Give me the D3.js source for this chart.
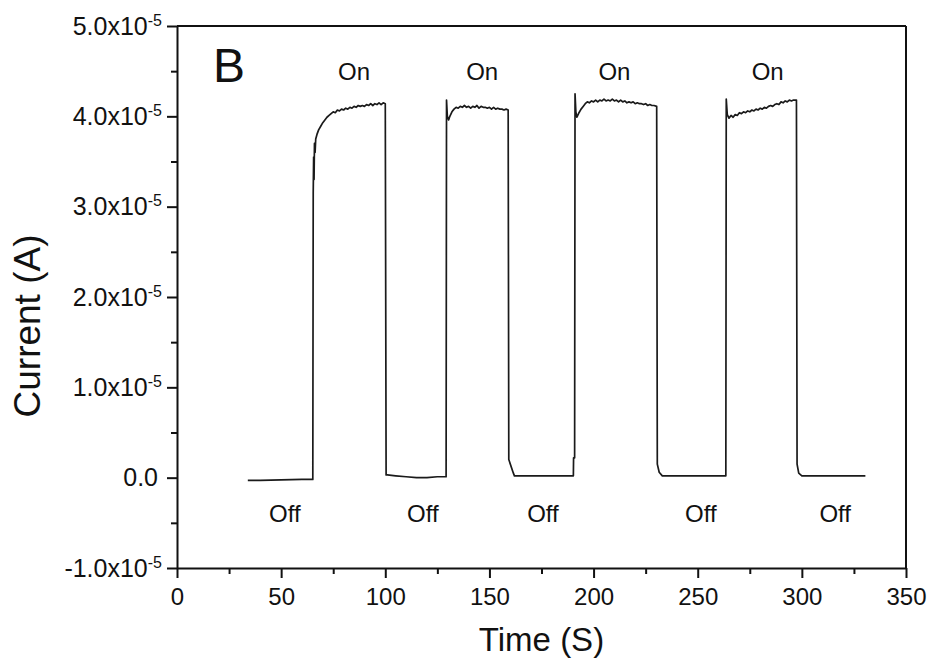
<!DOCTYPE html>
<html>
<head>
<meta charset="utf-8">
<script src="https://cdn.jsdelivr.net/npm/d3@7"></script>
<style>
  body { margin: 0; background: #fff; }
  svg text { font-family: "Liberation Sans", Arial, sans-serif; fill: #111; }
</style>
</head>
<body>
<div id="chart"></div>
<script>
// photocurrent, time in s, current in units of 1e-5 A
const off1 = [[34, -0.03], [40, -0.03], [50, -0.025], [60, -0.02], [65.2, -0.02]];
const on1 = [[65.4, 3.15], [65.6, 3.55], [65.8, 3.3], [66.0, 3.7], [66.3, 3.6], [66.6, 3.75], [67.2, 3.8],
  [68, 3.85], [69, 3.89], [70, 3.93], [71, 3.96], [72, 3.99], [73, 4.01], [74, 4.03], [75, 4.05],
  [76, 4.04], [77, 4.07], [78, 4.06], [79, 4.08], [80, 4.07], [81, 4.09], [82, 4.08], [83, 4.10],
  [84, 4.09], [85, 4.11], [86, 4.10], [87, 4.12], [88, 4.11], [89, 4.12], [90, 4.11], [91, 4.13],
  [92, 4.12], [93, 4.14], [94, 4.12], [95, 4.14], [96, 4.13], [97, 4.15], [98, 4.13], [99, 4.15], [100, 4.14]];
const off2 = [[100.4, 0.03], [101, 0.03], [105, 0.02], [110, 0.01], [115, 0.0], [120, 0.0], [125, 0.01], [129.2, 0.01]];
const on2 = [[129.4, 4.18], [129.8, 4.0], [130.4, 3.96], [131, 4.0], [132, 4.05], [133, 4.08], [134, 4.10],
  [135, 4.09], [136, 4.11], [137, 4.10], [138, 4.12], [139, 4.10], [140, 4.11], [141, 4.09], [142, 4.11],
  [143, 4.10], [144, 4.12], [145, 4.09], [146, 4.11], [147, 4.10], [148, 4.10], [149, 4.09], [150, 4.10],
  [151, 4.08], [152, 4.10], [153, 4.08], [154, 4.09], [155, 4.08], [156, 4.08], [157, 4.07], [158, 4.08], [159, 4.07]];
const off3 = [[159.3, 0.2], [161.5, 0.05], [162, 0.02], [165, 0.02], [170, 0.02], [175, 0.02], [180, 0.02],
  [185, 0.02], [190.3, 0.02], [190.4, 0.22], [190.9, 0.22]];
const on3 = [[191.1, 4.25], [191.5, 4.05], [192, 3.99], [193, 4.04], [194, 4.08], [195, 4.11], [196, 4.14],
  [197, 4.16], [198, 4.15], [199, 4.17], [200, 4.16], [201, 4.18], [202, 4.16], [203, 4.18], [204, 4.17],
  [205, 4.19], [206, 4.17], [207, 4.18], [208, 4.17], [209, 4.19], [210, 4.17], [211, 4.18], [212, 4.16],
  [213, 4.18], [214, 4.16], [215, 4.17], [216, 4.15], [217, 4.16], [218, 4.15], [219, 4.16], [220, 4.14],
  [221, 4.15], [222, 4.14], [223, 4.14], [224, 4.13], [225, 4.14], [226, 4.12], [227, 4.13], [228, 4.12],
  [229, 4.12], [230.3, 4.11]];
const off4 = [[230.6, 0.15], [231.5, 0.06], [233, 0.02], [240, 0.02], [250, 0.02], [255, 0.02], [263.5, 0.02]];
const on4 = [[263.7, 4.19], [264.2, 4.02], [265, 3.98], [266, 4.01], [267, 3.99], [268, 4.02], [269, 4.01],
  [270, 4.04], [271, 4.03], [272, 4.05], [273, 4.04], [274, 4.06], [275, 4.05], [276, 4.07], [277, 4.06],
  [278, 4.08], [279, 4.07], [280, 4.09], [281, 4.08], [282, 4.10], [283, 4.09], [284, 4.11], [285, 4.12],
  [286, 4.11], [287, 4.13], [288, 4.14], [289, 4.13], [290, 4.16], [291, 4.15], [292, 4.17], [293, 4.16],
  [294, 4.18], [295, 4.17], [296, 4.18], [297.4, 4.18]];
const off5 = [[297.7, 0.15], [298.5, 0.05], [300, 0.02], [310, 0.02], [320, 0.02], [330.5, 0.02]];

const xTicks = [0, 50, 100, 150, 200, 250, 300, 350];
const yTicks = [-1, 0, 1, 2, 3, 4, 5];
// annotation anchors (time, current)
const onLabels = [[85, 4.5], [146.5, 4.5], [210, 4.5], [283.6, 4.5]];
const offLabels = [[51.8, -0.4], [118, -0.4], [175.7, -0.4], [251.5, -0.4], [316, -0.4]];

const AREA_WIDTH = 932;
const AREA_HEIGHT = 663;
const MARGIN = { TOP: 26, RIGHT: 26, BOTTOM: 95, LEFT: 177 };
const WIDTH = AREA_WIDTH - MARGIN.LEFT - MARGIN.RIGHT;
const HEIGHT = AREA_HEIGHT - MARGIN.TOP - MARGIN.BOTTOM;

const svg = d3.select('#chart')
  .append('svg')
  .attr('width', AREA_WIDTH)
  .attr('height', AREA_HEIGHT)
  .append('g')
  .attr('transform', `translate(${MARGIN.LEFT},${MARGIN.TOP})`);

const x = d3.scaleLinear().domain([0, 350]).range([0, WIDTH]);
const y = d3.scaleLinear().domain([-1, 5]).range([HEIGHT, 0]);

const data = [].concat(off1, on1, off2, on2, off3, on3, off4, on4, off5);

svg.append('path')
  .datum(data)
  .attr('fill', 'none')
  .attr('stroke', '#1a1a1a')
  .attr('stroke-width', 1.7)
  .attr('stroke-linejoin', 'round')
  .attr('d', d3.line().x(d => x(d[0])).y(d => y(d[1])));

// frame
svg.append('line').attr('x1', 0).attr('x2', WIDTH).attr('y1', 0).attr('y2', 0)
  .attr('stroke', '#111').attr('stroke-width', 2);
svg.append('line').attr('x1', WIDTH).attr('x2', WIDTH).attr('y1', 0).attr('y2', HEIGHT)
  .attr('stroke', '#111').attr('stroke-width', 2);

// minor ticks
svg.append('g')
  .attr('transform', `translate(0,${HEIGHT})`)
  .call(d3.axisBottom(x).tickValues(d3.range(25, 350, 50)).tickSize(6).tickFormat(''))
  .call(g => g.select('.domain').remove());
svg.append('g')
  .call(d3.axisLeft(y).tickValues(d3.range(-0.5, 5, 1)).tickSize(6).tickFormat(''))
  .call(g => g.select('.domain').remove());

const xAxis = svg.append('g')
  .attr('transform', `translate(0,${HEIGHT})`)
  .call(d3.axisBottom(x).tickValues(xTicks).tickSize(10).tickSizeOuter(0).tickPadding(8));
xAxis.selectAll('text').attr('font-size', 24).attr('y', 37).attr('dy', null);

const yAxis = svg.append('g')
  .call(d3.axisLeft(y).tickValues(yTicks).tickSize(10).tickSizeOuter(0).tickFormat(''));
yAxis.selectAll('.tick').append('text')
  .attr('x', -15)
  .attr('y', 8)
  .attr('text-anchor', 'end')
  .attr('font-size', 25)
  .each(function (d) {
    const t = d3.select(this);
    if (d === 0) { t.attr('x', -19).text('0.0'); return; }
    t.append('tspan').text(d.toFixed(1) + 'x10');
    t.append('tspan').attr('dy', -9).attr('font-size', 16).text('-5');
  });

svg.selectAll('.domain, .tick line').attr('stroke', '#111').attr('stroke-width', 2);

// titles
svg.append('text')
  .attr('x', WIDTH / 2)
  .attr('y', HEIGHT + 83)
  .attr('text-anchor', 'middle')
  .attr('font-size', 33)
  .text('Time (S)');
svg.append('text')
  .attr('transform', 'rotate(-90)')
  .attr('x', -300)
  .attr('y', -137)
  .attr('text-anchor', 'middle')
  .attr('font-size', 37)
  .text('Current (A)');

svg.append('text')
  .attr('x', 36)
  .attr('y', 56)
  .attr('font-size', 48)
  .text('B');

svg.selectAll('.on-label')
  .data(onLabels)
  .enter()
  .append('text')
  .attr('x', d => x(d[0]))
  .attr('y', d => y(d[1]))
  .attr('dy', '0.35em')
  .attr('text-anchor', 'middle')
  .attr('font-size', 24)
  .text('On');
svg.selectAll('.off-label')
  .data(offLabels)
  .enter()
  .append('text')
  .attr('x', d => x(d[0]))
  .attr('y', d => y(d[1]))
  .attr('dy', '0.35em')
  .attr('text-anchor', 'middle')
  .attr('font-size', 24)
  .text('Off');
</script>
</body>
</html>
